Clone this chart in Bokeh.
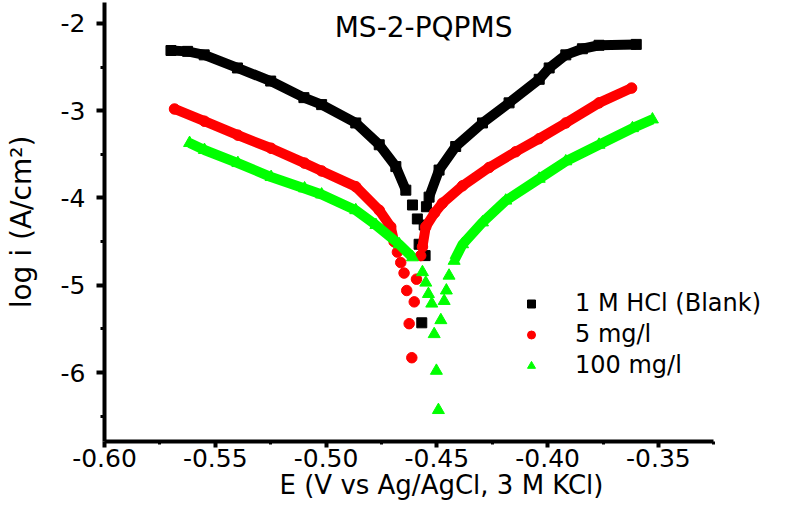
from bokeh.plotting import figure
from bokeh.models import Legend, LegendItem, Label, FixedTicker, Range1d
from bokeh.embed import file_html
from bokeh.resources import INLINE

# ---------------- data ----------------
# 1 M HCl (Blank)
blank_left_E = [-0.570, -0.5625, -0.555, -0.540, -0.525, -0.510, -0.502, -0.4866, -0.476, -0.4685, -0.464]
blank_left_logi = [-2.31, -2.32, -2.36, -2.51, -2.66, -2.85, -2.93, -3.14, -3.39, -3.64, -3.91]
blank_mid_E = [-0.4610, -0.4588, -0.4580, -0.4568, -0.4553, -0.4557, -0.4547]
blank_mid_logi = [-4.08, -4.24, -4.53, -5.43, -4.66, -4.31, -4.10]
blank_right_E = [-0.4535, -0.449, -0.4415, -0.4294, -0.4174, -0.4038, -0.3993, -0.3918, -0.3843, -0.3768, -0.360]
blank_right_logi = [-3.99, -3.68, -3.41, -3.14, -2.91, -2.64, -2.51, -2.36, -2.29, -2.25, -2.24]

# 5 mg/l
c5_left_E = [-0.5684, -0.5549, -0.5398, -0.5248, -0.5097, -0.502, -0.4866, -0.476, -0.4708, -0.4693]
c5_left_logi = [-2.98, -3.12, -3.28, -3.43, -3.60, -3.69, -3.87, -4.14, -4.33, -4.50]
c5_mid_E = [-0.4678, -0.4663, -0.4648, -0.4636, -0.4625, -0.4613, -0.4602, -0.4592, -0.4573]
c5_mid_logi = [-4.62, -4.74, -4.86, -5.06, -5.44, -5.83, -5.19, -4.93, -4.66]
c5_right_E = [-0.4565, -0.455, -0.4510, -0.4475, -0.4384, -0.4264, -0.4144, -0.4038, -0.3918, -0.3768, -0.3621]
c5_right_logi = [-4.56, -4.33, -4.17, -4.06, -3.86, -3.65, -3.47, -3.32, -3.14, -2.91, -2.74]

# 100 mg/l
c100_left_E = [-0.5616, -0.5549, -0.5398, -0.5248, -0.5097, -0.502, -0.4866, -0.4775, -0.467, -0.461]
c100_left_logi = [-3.37, -3.45, -3.60, -3.76, -3.89, -3.96, -4.14, -4.31, -4.53, -4.68]
c100_mid_E = [-0.4565, -0.4550, -0.4538, -0.4523, -0.4512, -0.4502, -0.4493, -0.4482, -0.4467, -0.4457, -0.4445]
c100_mid_logi = [-4.85, -4.97, -5.10, -5.21, -5.56, -5.98, -6.43, -5.40, -5.18, -5.06, -4.89]
c100_right_E = [-0.4422, -0.4384, -0.4294, -0.4189, -0.4038, -0.3918, -0.3768, -0.3617, -0.3527]
c100_right_logi = [-4.72, -4.53, -4.28, -4.03, -3.78, -3.58, -3.39, -3.20, -3.10]

series_labels = ["1 M HCl (Blank)", "5 mg/l", "100 mg/l"]
chart_title = "MS-2-PQPMS"

x_ticks = [-0.60, -0.55, -0.50, -0.45, -0.40, -0.35]
x_tick_labels = ["-0.60", "-0.55", "-0.50", "-0.45", "-0.40", "-0.35"]
x_minor = [-0.575, -0.525, -0.475, -0.425, -0.375, -0.325]
x_axis_bounds = (-0.60, -0.325)
y_ticks = [-6, -5, -4, -3, -2]
y_tick_labels = ["-6", "-5", "-4", "-3", "-2"]
y_minor = [-6.5, -5.5, -4.5, -3.5, -2.5]

FONT = "DejaVu Sans"

p = figure(width=778, height=503,
           x_range=Range1d(-0.60, -0.2958), y_range=Range1d(-6.79, -1.76),
           output_backend="svg", toolbar_location=None,
           min_border_left=104, min_border_right=0,
           min_border_top=2, min_border_bottom=62)
p.outline_line_color = None
p.xgrid.visible = False
p.ygrid.visible = False

# ---------------- curves ----------------
def draw(left_E, left_l, mid_E, mid_l, right_E, right_l, color, marker, size, lw, cap):
    p.line(left_E, left_l, line_color=color, line_width=lw, line_cap=cap, line_join="round")
    p.line(right_E, right_l, line_color=color, line_width=lw, line_cap=cap, line_join="round")
    p.scatter(left_E, left_l, marker=marker, size=size, color=color)
    p.scatter(right_E, right_l, marker=marker, size=size, color=color)
    r = p.scatter(mid_E, mid_l, marker=marker, size=size, color=color)
    return r

r_black = draw(blank_left_E, blank_left_logi, blank_mid_E, blank_mid_logi,
               blank_right_E, blank_right_logi, "black", "square", 10, 10, "butt")
r_red = draw(c5_left_E, c5_left_logi, c5_mid_E, c5_mid_logi,
             c5_right_E, c5_right_logi, "#ff0000", "circle", 10.5, 10, "round")
r_green = draw(c100_left_E, c100_left_logi, c100_mid_E, c100_mid_logi,
               c100_right_E, c100_right_logi, "#00ff00", "triangle", 12, 10, "butt")

# ---------------- axes ----------------
p.xaxis.ticker = FixedTicker(ticks=x_ticks, minor_ticks=x_minor)
p.yaxis.ticker = FixedTicker(ticks=y_ticks, minor_ticks=y_minor)
p.xaxis.major_label_overrides = dict(zip(x_ticks, x_tick_labels))
p.yaxis.major_label_overrides = dict(zip(y_ticks, y_tick_labels))
p.xaxis.bounds = x_axis_bounds
p.xaxis.axis_label = "E (V vs Ag/AgCl, 3 M KCl)"
p.yaxis.axis_label = "log i (A/cm²)"

for ax in (p.xaxis[0], p.yaxis[0]):
    ax.axis_line_width = 4
    ax.axis_line_color = "black"
    ax.major_tick_line_color = "black"
    ax.minor_tick_line_color = "black"
    ax.major_tick_line_width = 4
    ax.minor_tick_line_width = 3
    ax.major_tick_in = 0
    ax.minor_tick_in = 0
    ax.major_label_text_font = FONT
    ax.major_label_text_font_size = "25px"
    ax.major_label_text_color = "black"
    ax.axis_label_text_font = FONT
    ax.axis_label_text_font_style = "normal"
    ax.axis_label_text_color = "black"

p.xaxis.axis_label_text_font_size = "26px"
p.yaxis.axis_label_text_font_size = "28px"
p.xaxis.major_tick_out = 6
p.xaxis.minor_tick_out = 3
p.xaxis.major_label_standoff = 1
p.xaxis.axis_label_standoff = 0
p.yaxis.major_tick_out = 8
p.yaxis.minor_tick_out = 4
p.yaxis.major_label_standoff = 11
p.yaxis.axis_label_standoff = 20

# ---------------- title inside plot ----------------
p.add_layout(Label(x=-0.456, y=-2.046, text=chart_title, text_align="center",
                   text_baseline="middle", text_font=FONT, text_font_size="28px",
                   text_color="black"))

# ---------------- legend ----------------
legend = Legend(items=[LegendItem(label=series_labels[0], renderers=[r_black]),
                       LegendItem(label=series_labels[1], renderers=[r_red]),
                       LegendItem(label=series_labels[2], renderers=[r_green])],
                location=(417, 62), orientation="vertical",
                border_line_color=None, background_fill_alpha=0,
                label_text_font=FONT, label_text_font_size="24px",
                label_text_color="black",
                glyph_width=20, glyph_height=25, label_height=25,
                spacing=3, padding=10, label_standoff=34, margin=0)
p.add_layout(legend)

open("out.html", "w").write(file_html(p, INLINE))
